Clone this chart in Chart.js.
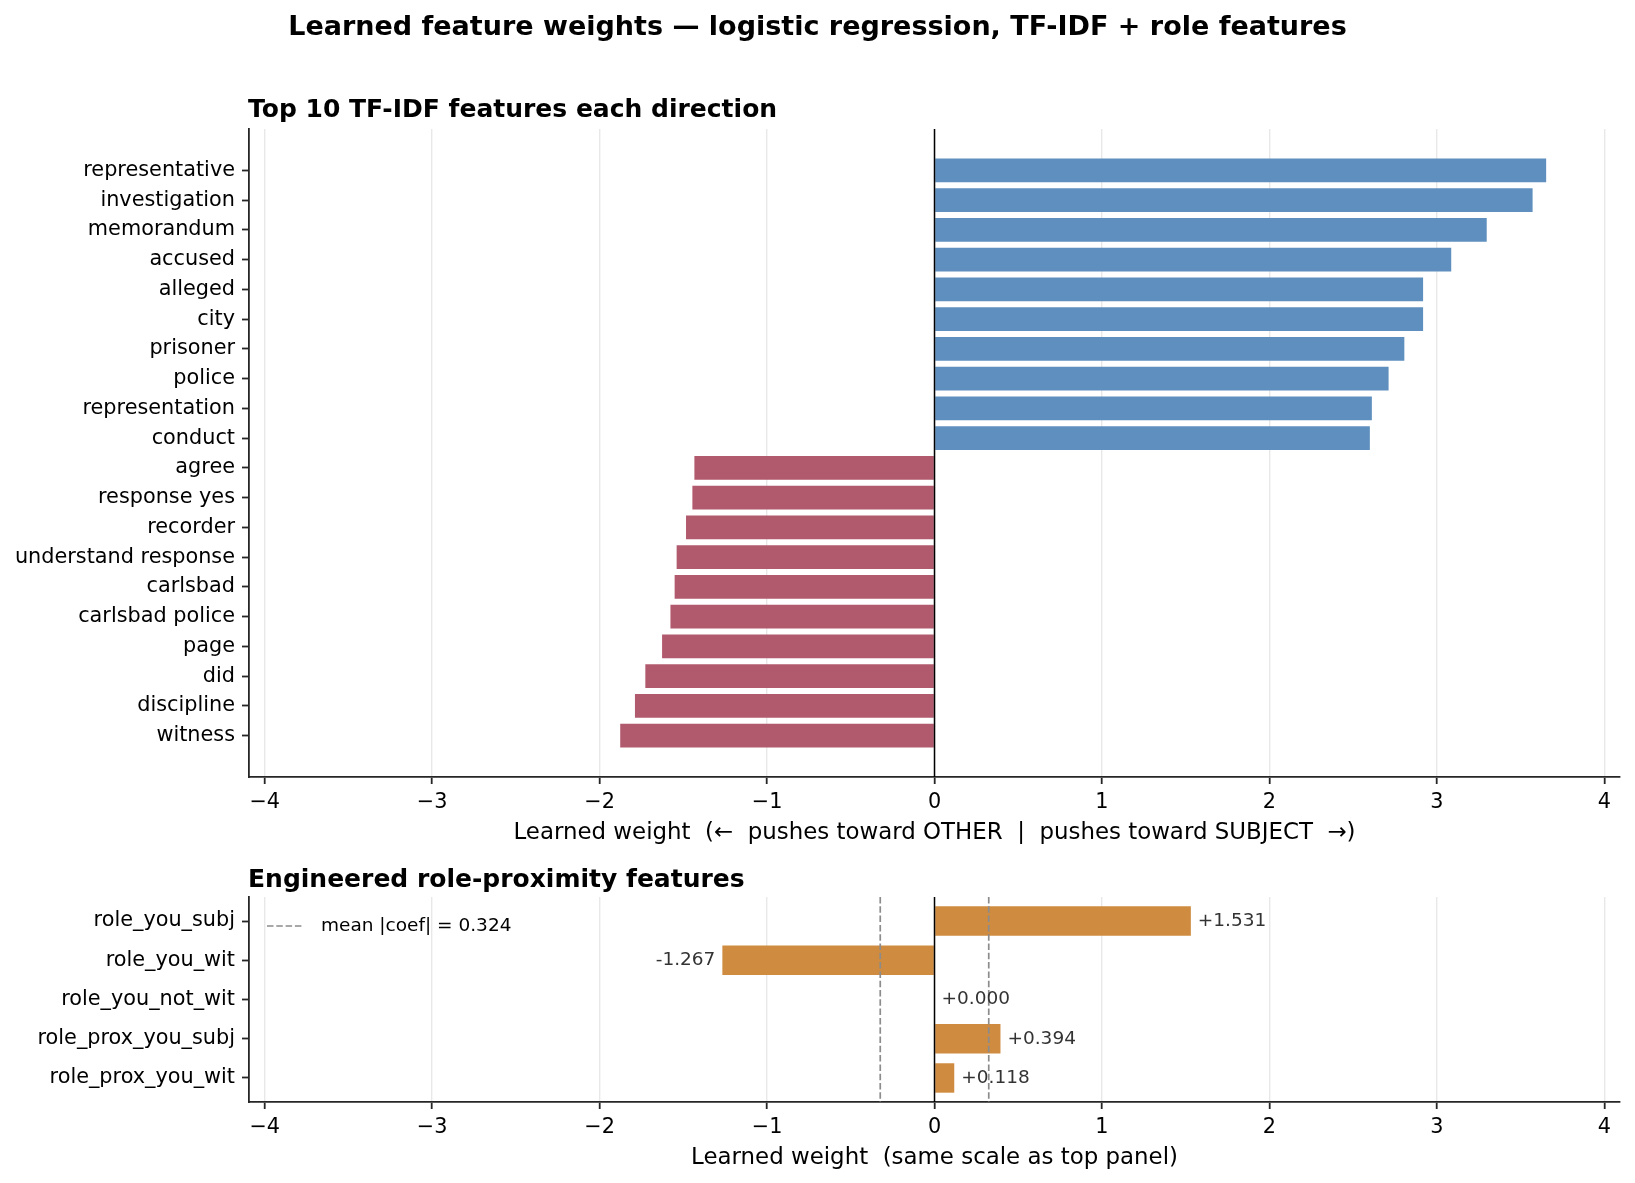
<!DOCTYPE html>
<html>
<head>
<meta charset="utf-8">
<title>Learned feature weights</title>
<script src="https://cdn.jsdelivr.net/npm/chart.js@4.4.1/dist/chart.umd.min.js"></script>
<style>
  body { margin: 0; background: #fff; }
  #wrap { position: relative; width: 1635px; height: 1183px; }
  canvas { position: absolute; left: 0; }
</style>
</head>
<body>
<div id="wrap">
  <canvas id="topChart" width="1635" height="860" style="top:0"></canvas>
  <canvas id="roleChart" width="1635" height="323" style="top:860px"></canvas>
</div>
<script>
// --- data ---
const subjectTerms = ['representative', 'investigation', 'memorandum', 'accused', 'alleged',
                      'city', 'prisoner', 'police', 'representation', 'conduct'];
const subjectWeights = [3.653, 3.572, 3.298, 3.086, 2.918, 2.918, 2.806, 2.712, 2.612, 2.600];

const otherTerms = ['agree', 'response yes', 'recorder', 'understand response', 'carlsbad',
                    'carlsbad police', 'page', 'did', 'discipline', 'witness'];
const otherWeights = [-1.434, -1.446, -1.484, -1.540, -1.552, -1.577, -1.627, -1.727, -1.789, -1.877];

const roleFeatures = ['role_you_subj', 'role_you_wit', 'role_you_not_wit', 'role_prox_you_subj', 'role_prox_you_wit'];
const roleWeights = [1.531, -1.267, 0.000, 0.394, 0.118];

const meanAbsCoef = 0.324;
const xTickValues = [-4, -3, -2, -1, 0, 1, 2, 3, 4];
const X_LIMIT = 4.094;

const BLUE = '#5E8FBE';
const RED = '#B25A6D';
const ORANGE = '#CF8B40';
const FONT = '"DejaVu Sans", Verdana, sans-serif';

const tfidfTerms = subjectTerms.concat(otherTerms);
const tfidfWeights = subjectWeights.concat(otherWeights);

function minusLabel(v) {
    return v < 0 ? '\u2212' + Math.abs(v) : String(v);
}

// draws titles, zero line, mean lines, legend, value labels
const panelDecor = {
    id: 'panelDecor',
    afterDatasetsDraw(chart, args, opts) {
        const { ctx, chartArea } = chart;
        const xs = chart.scales.x;
        ctx.save();

        // dashed mean |coef| lines
        if (opts.meanLine) {
            ctx.strokeStyle = '#8c8c8c';
            ctx.lineWidth = 1.7;
            ctx.setLineDash([6.5, 2.8]);
            [-opts.meanLine, opts.meanLine].forEach(v => {
                const px = xs.getPixelForValue(v);
                ctx.beginPath();
                ctx.moveTo(px, chartArea.top);
                ctx.lineTo(px, chartArea.bottom);
                ctx.stroke();
            });
            // legend entry
            const ly = chartArea.top + 29;
            ctx.beginPath();
            ctx.moveTo(chartArea.left + 18, ly);
            ctx.lineTo(chartArea.left + 54, ly);
            ctx.stroke();
            ctx.setLineDash([]);
            ctx.fillStyle = '#000';
            ctx.font = '18.5px ' + FONT;
            ctx.textAlign = 'left';
            ctx.textBaseline = 'middle';
            ctx.fillText('mean |coef| = ' + opts.meanLine.toFixed(3), chartArea.left + 72, ly);
        }

        // zero line
        const x0 = xs.getPixelForValue(0);
        ctx.setLineDash([]);
        ctx.strokeStyle = '#000';
        ctx.lineWidth = 1.5;
        ctx.beginPath();
        ctx.moveTo(x0, chartArea.top);
        ctx.lineTo(x0, chartArea.bottom);
        ctx.stroke();

        // value labels next to bars
        if (opts.valueLabels) {
            const meta = chart.getDatasetMeta(0);
            const vals = chart.data.datasets[0].data;
            ctx.font = '18.5px ' + FONT;
            ctx.fillStyle = '#333';
            ctx.textBaseline = 'middle';
            meta.data.forEach((bar, i) => {
                const v = vals[i].x;
                if (v >= 0) {
                    ctx.textAlign = 'left';
                    ctx.fillText('+' + v.toFixed(3), bar.x + 7, bar.y);
                } else {
                    ctx.textAlign = 'right';
                    ctx.fillText(v.toFixed(3), bar.x - 7, bar.y);
                }
            });
        }

        // panel title
        ctx.fillStyle = '#000';
        ctx.font = 'bold 25px ' + FONT;
        ctx.textAlign = 'left';
        ctx.textBaseline = 'alphabetic';
        ctx.fillText(opts.title, chartArea.left - 1, opts.titleBaseline);

        // figure title
        if (opts.suptitle) {
            ctx.font = 'bold 27px ' + FONT;
            ctx.textAlign = 'center';
            ctx.fillText(opts.suptitle, chart.width / 2, 35);
        }
        ctx.restore();
    }
};

function barPanel(canvasId, labels, values, colors, cfg) {
    const n = labels.length;
    const margin = 0.05 * (n - 1 + cfg.barHeight);
    return new Chart(document.getElementById(canvasId), {
        type: 'bar',
        data: {
            datasets: [{
                data: values.map((v, i) => ({ x: v, y: i })),
                backgroundColor: colors,
                borderWidth: 0,
                categoryPercentage: 1,
                barPercentage: cfg.barHeight
            }]
        },
        options: {
            indexAxis: 'y',
            responsive: false,
            animation: false,
            events: [],
            layout: { padding: { top: cfg.padTop, right: 15, left: 0, bottom: 0 } },
            plugins: {
                legend: { display: false },
                tooltip: { enabled: false },
                panelDecor: cfg.decor
            },
            scales: {
                x: {
                    type: 'linear',
                    min: -X_LIMIT,
                    max: X_LIMIT,
                    afterBuildTicks: s => { s.ticks = xTickValues.map(v => ({ value: v })); },
                    afterFit: s => { s.height = cfg.xAxisHeight; },
                    grid: { color: '#e8e8e8', lineWidth: 1.4, tickColor: '#262626', tickWidth: 1.8, tickLength: 7 },
                    border: { color: '#262626', width: 1.8 },
                    ticks: {
                        color: '#000', font: { family: FONT, size: 20.8 }, padding: 6,
                        maxRotation: 0, autoSkip: false,
                        callback: v => minusLabel(v)
                    },
                    title: {
                        display: true, text: cfg.xTitle, color: '#000',
                        font: { family: FONT, size: 22.9 },
                        padding: { top: 0, bottom: cfg.titlePadBottom }
                    }
                },
                y: {
                    type: 'linear',
                    reverse: true,
                    offset: false,
                    min: -cfg.barHeight / 2 - margin,
                    max: n - 1 + cfg.barHeight / 2 + margin,
                    afterBuildTicks: s => { s.ticks = labels.map((l, i) => ({ value: i })); },
                    afterFit: s => { s.width = 249; },
                    grid: { offset: false, drawOnChartArea: false, tickColor: '#262626', tickWidth: 1.8, tickLength: 7 },
                    border: { color: '#262626', width: 1.8 },
                    ticks: {
                        color: '#000', font: { family: FONT, size: 20.8 }, padding: 7,
                        autoSkip: false,
                        callback: v => labels[v]
                    }
                }
            }
        },
        plugins: [panelDecor]
    });
}

// --- Top panel: TF-IDF features ---
barPanel('topChart', tfidfTerms, tfidfWeights,
    tfidfWeights.map(w => (w >= 0 ? BLUE : RED)), {
        barHeight: 0.8,
        padTop: 129,
        xAxisHeight: 83,
        titlePadBottom: 13,
        xTitle: 'Learned weight  (\u2190  pushes toward OTHER  |  pushes toward SUBJECT  \u2192)',
        decor: {
            title: 'Top 10 TF-IDF features each direction',
            titleBaseline: 117,
            suptitle: 'Learned feature weights \u2014 logistic regression, TF-IDF + role features'
        }
    });

// --- Bottom panel: engineered role features ---
barPanel('roleChart', roleFeatures, roleWeights,
    roleWeights.map(() => ORANGE), {
        barHeight: 0.75,
        padTop: 37,
        xAxisHeight: 81,
        titlePadBottom: 11,
        xTitle: 'Learned weight  (same scale as top panel)',
        decor: {
            title: 'Engineered role-proximity features',
            titleBaseline: 27,
            meanLine: meanAbsCoef,
            valueLabels: true
        }
    });
</script>
</body>
</html>
